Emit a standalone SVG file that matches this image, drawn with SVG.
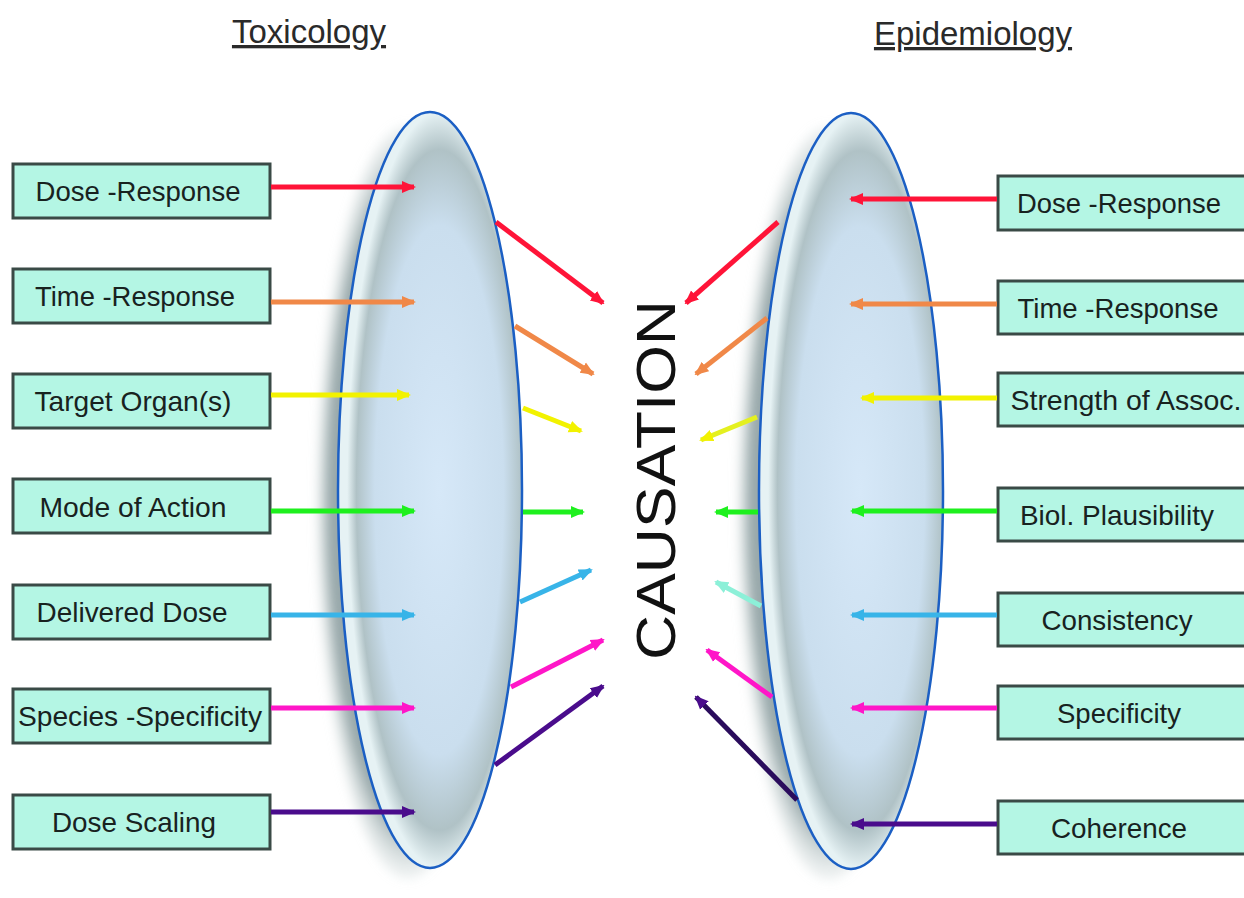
<svg xmlns="http://www.w3.org/2000/svg" width="1244" height="898" viewBox="0 0 1244 898">
<style>
.box rect{fill:#b4f6e4;stroke:#3a4a46;stroke-width:3}
.box text{font-family:"Liberation Sans",Arial,sans-serif;font-size:28px;fill:#18221f;text-anchor:middle}
.title{font-family:"Liberation Sans",Arial,sans-serif;font-size:33px;fill:#2a2a2a;text-anchor:middle;text-decoration:underline}
.lens{stroke:#1b5fc4;stroke-width:2.5}
.a{fill:none;stroke-width:5}
</style>
<defs>
<radialGradient id="lensFill" cx="0.55" cy="0.5" r="0.5">
<stop offset="0" stop-color="#d6e8f8"/>
<stop offset="0.7" stop-color="#cadeee"/>
<stop offset="0.9" stop-color="#b0c2c6"/>
<stop offset="1" stop-color="#e6f2f4"/>
</radialGradient>
<radialGradient id="shadowFill" cx="0.5" cy="0.5" r="0.5">
<stop offset="0.85" stop-color="#98a8aa"/>
<stop offset="1" stop-color="#c8d4d4" stop-opacity="0.2"/>
</radialGradient>
<filter id="blur" x="-0.2" y="-0.1" width="1.4" height="1.2"><feGaussianBlur stdDeviation="5"/></filter>
<marker id="mRed" markerUnits="userSpaceOnUse" markerWidth="14" markerHeight="14" refX="12" refY="7" orient="auto"><path d="M0,1 L14,7 L0,13 z" fill="#ff1438"/></marker>
<marker id="mOrange" markerUnits="userSpaceOnUse" markerWidth="14" markerHeight="14" refX="12" refY="7" orient="auto"><path d="M0,1 L14,7 L0,13 z" fill="#f08848"/></marker>
<marker id="mYellow" markerUnits="userSpaceOnUse" markerWidth="14" markerHeight="14" refX="12" refY="7" orient="auto"><path d="M0,1 L14,7 L0,13 z" fill="#f2f200"/></marker>
<marker id="mGreen" markerUnits="userSpaceOnUse" markerWidth="14" markerHeight="14" refX="12" refY="7" orient="auto"><path d="M0,1 L14,7 L0,13 z" fill="#1ef01e"/></marker>
<marker id="mBlue" markerUnits="userSpaceOnUse" markerWidth="14" markerHeight="14" refX="12" refY="7" orient="auto"><path d="M0,1 L14,7 L0,13 z" fill="#38b4e8"/></marker>
<marker id="mAqua" markerUnits="userSpaceOnUse" markerWidth="14" markerHeight="14" refX="12" refY="7" orient="auto"><path d="M0,1 L14,7 L0,13 z" fill="#8cf0d8"/></marker>
<marker id="mMagenta" markerUnits="userSpaceOnUse" markerWidth="14" markerHeight="14" refX="12" refY="7" orient="auto"><path d="M0,1 L14,7 L0,13 z" fill="#ff16c8"/></marker>
<marker id="mPurple" markerUnits="userSpaceOnUse" markerWidth="14" markerHeight="14" refX="12" refY="7" orient="auto"><path d="M0,1 L14,7 L0,13 z" fill="#4a0c8c"/></marker>
</defs>
<rect width="1244" height="898" fill="#ffffff"/>

<text class="title" x="309" y="43">Toxicology</text>
<text class="title" x="973" y="45">Epidemiology</text>

<g id="lens-left">
<ellipse cx="408" cy="502" rx="92" ry="378" fill="url(#shadowFill)" filter="url(#blur)"/>
<ellipse class="lens" cx="430" cy="490" rx="92" ry="378" fill="url(#lensFill)"/>
</g>
<g id="lens-right">
<ellipse cx="829" cy="503" rx="92" ry="378" fill="url(#shadowFill)" filter="url(#blur)"/>
<ellipse class="lens" cx="851" cy="491" rx="92" ry="378" fill="url(#lensFill)"/>
</g>

<g id="causation">
<text x="0" y="0" transform="translate(675,480) rotate(-90)" font-family="Liberation Sans, Arial, sans-serif" font-size="56" fill="#111" text-anchor="middle" textLength="360" lengthAdjust="spacingAndGlyphs">CAUSATION</text>
</g>

<g id="tox-dose-response" class="box"><rect x="13" y="164" width="257" height="54"/><text x="138" y="201" textLength="205" lengthAdjust="spacingAndGlyphs">Dose -Response</text></g>
<g id="tox-time-response" class="box"><rect x="13" y="269" width="257" height="54"/><text x="135" y="306" textLength="200" lengthAdjust="spacingAndGlyphs">Time -Response</text></g>
<g id="tox-target-organ" class="box"><rect x="13" y="374" width="257" height="54"/><text x="133" y="411" textLength="197" lengthAdjust="spacingAndGlyphs">Target Organ(s)</text></g>
<g id="tox-mode-of-action" class="box"><rect x="13" y="479" width="257" height="54"/><text x="133" y="517" textLength="187" lengthAdjust="spacingAndGlyphs">Mode of Action</text></g>
<g id="tox-delivered-dose" class="box"><rect x="13" y="585" width="257" height="54"/><text x="132" y="622" textLength="191" lengthAdjust="spacingAndGlyphs">Delivered Dose</text></g>
<g id="tox-species-specificity" class="box"><rect x="13" y="689" width="257" height="54"/><text x="140" y="726" textLength="244" lengthAdjust="spacingAndGlyphs">Species -Specificity</text></g>
<g id="tox-dose-scaling" class="box"><rect x="13" y="795" width="257" height="54"/><text x="134" y="832" textLength="164" lengthAdjust="spacingAndGlyphs">Dose Scaling</text></g>

<g id="epi-dose-response" class="box"><rect x="998" y="176" width="260" height="54"/><text x="1119" y="213" textLength="204" lengthAdjust="spacingAndGlyphs">Dose -Response</text></g>
<g id="epi-time-response" class="box"><rect x="998" y="281" width="260" height="53"/><text x="1118" y="318" textLength="201" lengthAdjust="spacingAndGlyphs">Time -Response</text></g>
<g id="epi-strength" class="box"><rect x="998" y="373" width="260" height="53"/><text x="1126" y="410" textLength="231" lengthAdjust="spacingAndGlyphs">Strength of Assoc.</text></g>
<g id="epi-biol-plausibility" class="box"><rect x="998" y="488" width="260" height="53"/><text x="1117" y="525" textLength="194" lengthAdjust="spacingAndGlyphs">Biol. Plausibility</text></g>
<g id="epi-consistency" class="box"><rect x="998" y="593" width="260" height="53"/><text x="1117" y="630" textLength="151" lengthAdjust="spacingAndGlyphs">Consistency</text></g>
<g id="epi-specificity" class="box"><rect x="998" y="686" width="260" height="53"/><text x="1119" y="723" textLength="124" lengthAdjust="spacingAndGlyphs">Specificity</text></g>
<g id="epi-coherence" class="box"><rect x="998" y="801" width="260" height="53"/><text x="1119" y="838" textLength="136" lengthAdjust="spacingAndGlyphs">Coherence</text></g>

<g id="connectors">
<line class="a" x1="271" y1="187" x2="414" y2="187" stroke="#ff1438" marker-end="url(#mRed)"/>
<line class="a" x1="271" y1="302" x2="414" y2="302" stroke="#f08848" marker-end="url(#mOrange)"/>
<line class="a" x1="271" y1="395" x2="409" y2="395" stroke="#f2f200" marker-end="url(#mYellow)"/>
<line class="a" x1="271" y1="511" x2="414" y2="511" stroke="#1ef01e" marker-end="url(#mGreen)"/>
<line class="a" x1="271" y1="615" x2="414" y2="615" stroke="#38b4e8" marker-end="url(#mBlue)"/>
<line class="a" x1="271" y1="708" x2="414" y2="708" stroke="#ff16c8" marker-end="url(#mMagenta)"/>
<line class="a" x1="271" y1="812" x2="414" y2="812" stroke="#4a0c8c" marker-end="url(#mPurple)"/>
<line class="a" x1="997" y1="199" x2="851" y2="199" stroke="#ff1438" marker-end="url(#mRed)"/>
<line class="a" x1="997" y1="304" x2="851" y2="304" stroke="#f08848" marker-end="url(#mOrange)"/>
<line class="a" x1="997" y1="398" x2="862" y2="398" stroke="#f2f200" marker-end="url(#mYellow)"/>
<line class="a" x1="997" y1="511" x2="852" y2="511" stroke="#1ef01e" marker-end="url(#mGreen)"/>
<line class="a" x1="997" y1="615" x2="852" y2="615" stroke="#38b4e8" marker-end="url(#mBlue)"/>
<line class="a" x1="997" y1="708" x2="852" y2="708" stroke="#ff16c8" marker-end="url(#mMagenta)"/>
<line class="a" x1="997" y1="824" x2="852" y2="824" stroke="#4a0c8c" marker-end="url(#mPurple)"/>
<line class="a" x1="496" y1="222" x2="603" y2="303" stroke="#ff1438" stroke-width="4" marker-end="url(#mRed)"/>
<line class="a" x1="515" y1="326" x2="593" y2="374" stroke="#f08848" stroke-width="4" marker-end="url(#mOrange)"/>
<line class="a" x1="523" y1="408" x2="581" y2="431" stroke="#f2f200" stroke-width="4" marker-end="url(#mYellow)"/>
<line class="a" x1="523" y1="512" x2="583" y2="512" stroke="#1ef01e" stroke-width="4" marker-end="url(#mGreen)"/>
<line class="a" x1="520" y1="602" x2="591" y2="570" stroke="#38b4e8" stroke-width="4" marker-end="url(#mBlue)"/>
<line class="a" x1="511" y1="687" x2="603" y2="640" stroke="#ff16c8" stroke-width="4" marker-end="url(#mMagenta)"/>
<line class="a" x1="495" y1="765" x2="603" y2="686" stroke="#4a0c8c" stroke-width="4" marker-end="url(#mPurple)"/>
<line class="a" x1="778" y1="222" x2="686" y2="303" stroke="#ff1438" stroke-width="4" marker-end="url(#mRed)"/>
<line class="a" x1="767" y1="318" x2="696" y2="374" stroke="#f08848" stroke-width="4" marker-end="url(#mOrange)"/>
<line class="a" x1="757" y1="417" x2="701" y2="440" stroke="#e4f020" stroke-width="4" marker-end="url(#mYellow)"/>
<line class="a" x1="758" y1="512" x2="716" y2="512" stroke="#1ef01e" stroke-width="4" marker-end="url(#mGreen)"/>
<line class="a" x1="761" y1="606" x2="716" y2="582" stroke="#8cf0d8" stroke-width="4" marker-end="url(#mAqua)"/>
<line class="a" x1="772" y1="697" x2="707" y2="650" stroke="#ff16c8" stroke-width="4" marker-end="url(#mMagenta)"/>
<line class="a" x1="797" y1="800" x2="696" y2="697" stroke="#2a0c5c" stroke-width="4" marker-end="url(#mPurple)"/>
</g>
</svg>
